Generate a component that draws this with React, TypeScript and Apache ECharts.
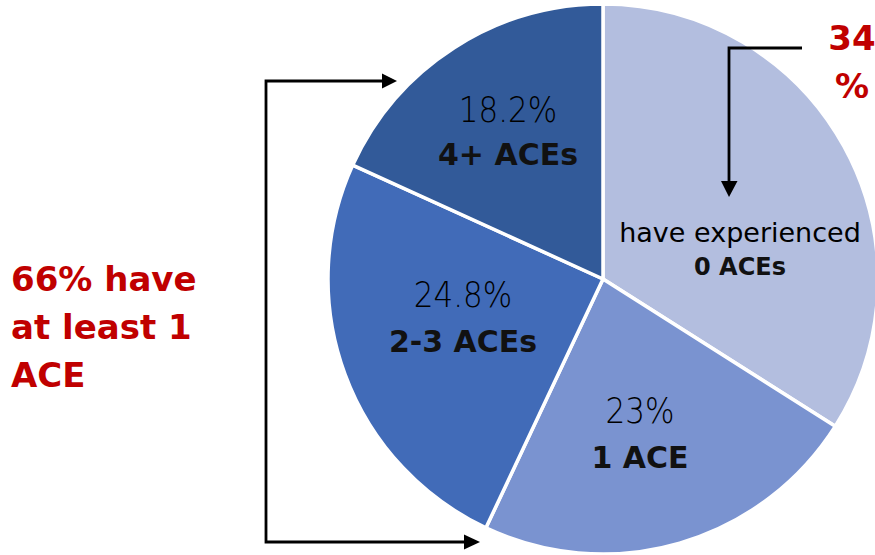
import React, { useEffect, useRef } from "react";
import * as echarts from "echarts";

const categories = ["0 ACEs", "1 ACE", "2-3 ACEs", "4+ ACEs"];
const values = [34, 23, 24.8, 18.2];
const colors = ["#b3bedf", "#7a93d0", "#416bb8", "#325a99"];
const summaryLeft = ["66% have", "at least 1", "ACE"];
const summaryRight = ["34", "%"];

const FONT = "'DejaVu Sans', sans-serif";

export default function App() {
  const ref = useRef<HTMLDivElement>(null);
  useEffect(() => {
    document.body.style.margin = "0";
    const chart = echarts.init(ref.current!, null, { renderer: "svg" });
    const pct = (v: number) => `${v}%`;
    const labelPos = [
      { x: 740, y1: 245, y2: 278, top: "have experienced", s1: 27, s2: 24, w1: "normal" },
      { x: 640, y1: 428, y2: 471 },
      { x: 463, y1: 312, y2: 355 },
      { x: 508, y1: 127, y2: 168 },
    ];
    const graphics: any[] = [];
    labelPos.forEach((p: any, i) => {
      graphics.push({
        type: "text",
        x: p.x,
        y: p.y1 + 1,
        style: {
          text: p.top ?? pct(values[i]),
          font: `${p.w1 ?? 200} ${p.s1 ?? 31}px ${FONT}`,
          fill: "#000",
          align: "center",
          verticalAlign: "bottom",
        },
        scaleY: p.top ? 1 : 1.15,
        z: 10,
      });
      graphics.push({
        type: "text",
        x: p.x,
        y: p.y2 + 1,
        style: {
          text: categories[i],
          font: `bold ${p.s2 ?? 30}px ${FONT}`,
          fill: "#111",
          align: "center",
          verticalAlign: "bottom",
        },
        z: 10,
      });
    });
    summaryLeft.forEach((t, i) => {
      graphics.push({
        type: "text",
        x: 11,
        y: 296 + i * 48,
        style: {
          text: t,
          font: `bold 34px ${FONT}`,
          fill: "#c00000",
          align: "left",
          verticalAlign: "bottom",
        },
      });
    });
    summaryRight.forEach((t, i) => {
      graphics.push({
        type: "text",
        x: 852,
        y: 55 + i * 48,
        style: {
          text: t,
          font: `bold 34px ${FONT}`,
          fill: "#c00000",
          align: "center",
          verticalAlign: "bottom",
        },
      });
    });
    const lineStyle = { stroke: "#000", lineWidth: 2.8, fill: null };
    graphics.push({
      type: "polyline",
      shape: { points: [[384, 81], [266, 81], [266, 542], [466, 542]] },
      style: lineStyle,
      z: 10,
    });
    graphics.push({
      type: "polygon",
      shape: { points: [[382, 73.5], [397, 81], [382, 88.5]] },
      style: { fill: "#000" },
      z: 10,
    });
    graphics.push({
      type: "polygon",
      shape: { points: [[464, 534.5], [480, 542], [464, 549.5]] },
      style: { fill: "#000" },
      z: 10,
    });
    graphics.push({
      type: "polyline",
      shape: { points: [[802, 48], [729, 48], [729, 183]] },
      style: lineStyle,
      z: 10,
    });
    graphics.push({
      type: "polygon",
      shape: { points: [[721, 181], [737.5, 181], [729, 197]] },
      style: { fill: "#000" },
      z: 10,
    });

    chart.setOption({
      animation: false,
      series: [
        {
          type: "pie",
          center: [603, 279],
          radius: 275,
          startAngle: 90,
          clockwise: true,
          label: { show: false },
          labelLine: { show: false },
          itemStyle: { borderColor: "#fff", borderWidth: 3.5 },
          emphasis: { disabled: true },
          data: categories.map((c, i) => ({
            name: c,
            value: values[i],
            itemStyle: { color: colors[i] },
          })),
        },
      ],
      graphic: graphics,
    });
    return () => chart.dispose();
  }, []);
  return <div ref={ref} style={{ width: 875, height: 555 }} />;
}
